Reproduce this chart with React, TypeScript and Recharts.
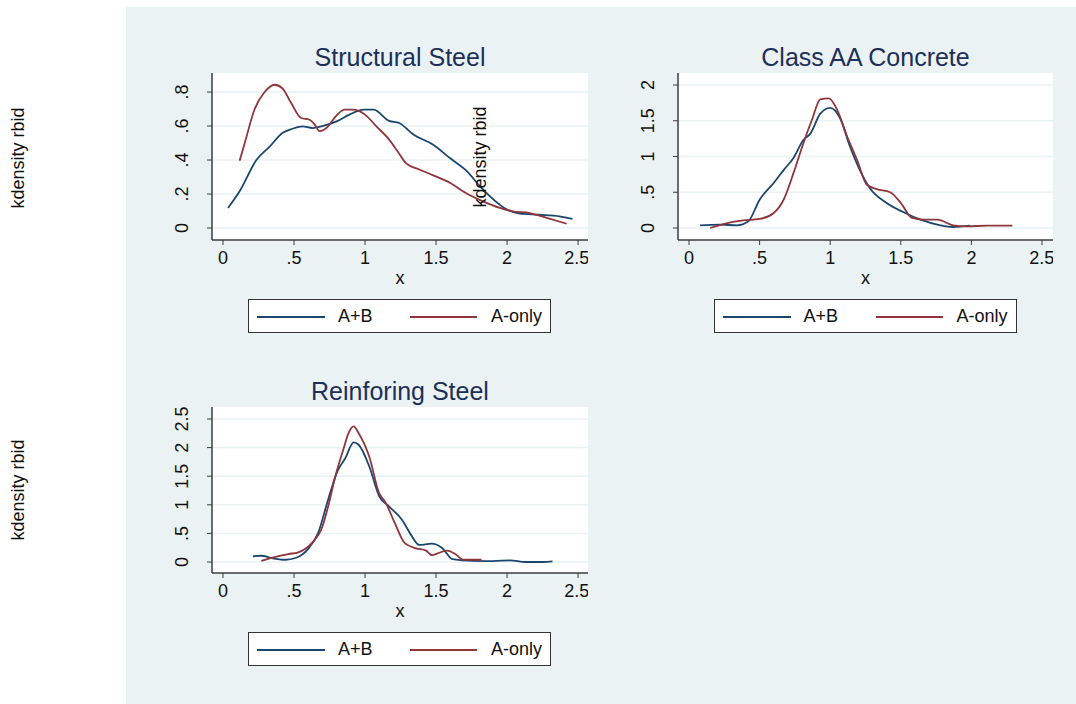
import { LineChart, Line, XAxis, YAxis, CartesianGrid } from 'recharts'

// Structural Steel
const steelABx = [0.035, 0.117, 0.235, 0.33, 0.42, 0.49, 0.56, 0.63, 0.7, 0.8, 0.89, 0.99, 1.06, 1.17, 1.24, 1.34, 1.48, 1.6, 1.71, 1.81, 1.88, 2.0, 2.09, 2.23, 2.37, 2.46]
const steelABy = [0.118, 0.216, 0.4, 0.48, 0.56, 0.584, 0.598, 0.588, 0.6, 0.627, 0.667, 0.696, 0.696, 0.63, 0.618, 0.55, 0.49, 0.41, 0.34, 0.245, 0.186, 0.108, 0.084, 0.078, 0.069, 0.053]
const steelAx = [0.117, 0.153, 0.223, 0.293, 0.364, 0.42, 0.48, 0.55, 0.61, 0.645, 0.68, 0.73, 0.8, 0.857, 0.915, 1.0, 1.08, 1.17, 1.23, 1.29, 1.385, 1.48, 1.6, 1.71, 1.83, 1.95, 2.04, 2.16, 2.28, 2.42]
const steelAy = [0.396, 0.5, 0.7, 0.8, 0.843, 0.82, 0.735, 0.647, 0.637, 0.61, 0.57, 0.59, 0.663, 0.696, 0.696, 0.667, 0.598, 0.52, 0.45, 0.38, 0.343, 0.31, 0.265, 0.206, 0.157, 0.118, 0.098, 0.088, 0.059, 0.025]

// Class AA Concrete
const concABx = [0.078, 0.22, 0.34, 0.42, 0.5, 0.6, 0.67, 0.74, 0.81, 0.86, 0.93, 1.0, 1.07, 1.14, 1.21, 1.28, 1.4, 1.52, 1.64, 1.78, 1.87, 1.99]
const concABy = [0.037, 0.047, 0.037, 0.093, 0.395, 0.63, 0.81, 0.98, 1.23, 1.32, 1.6, 1.68, 1.535, 1.14, 0.81, 0.56, 0.35, 0.22, 0.116, 0.037, 0.014, 0.033]
const concAx = [0.15, 0.31, 0.385, 0.5, 0.6, 0.67, 0.74, 0.81, 0.87, 0.93, 0.99, 1.05, 1.12, 1.19, 1.26, 1.33, 1.425, 1.5, 1.58, 1.66, 1.76, 1.87, 1.97, 2.11, 2.29]
const concAy = [0.0, 0.084, 0.107, 0.126, 0.21, 0.395, 0.767, 1.186, 1.51, 1.8, 1.814, 1.65, 1.28, 0.953, 0.605, 0.544, 0.5, 0.35, 0.14, 0.116, 0.116, 0.037, 0.023, 0.033, 0.033]

// Reinforing Steel
const rebarABx = [0.21, 0.27, 0.34, 0.44, 0.51, 0.6, 0.67, 0.74, 0.81, 0.86, 0.92, 0.955, 1.03, 1.1, 1.17, 1.26, 1.33, 1.38, 1.47, 1.545, 1.615, 1.76, 1.9, 2.02, 2.13, 2.25, 2.32]
const rebarABy = [0.1, 0.11, 0.07, 0.04, 0.07, 0.23, 0.51, 1.09, 1.61, 1.81, 2.09, 2.05, 1.67, 1.15, 0.97, 0.74, 0.45, 0.3, 0.32, 0.24, 0.05, 0.02, 0.017, 0.03, 0.0, 0.0, 0.012]
const rebarAx = [0.27, 0.37, 0.46, 0.53, 0.625, 0.7, 0.74, 0.79, 0.85, 0.885, 0.92, 0.955, 1.03, 1.1, 1.14, 1.21, 1.28, 1.36, 1.43, 1.47, 1.52, 1.58, 1.64, 1.69, 1.82]
const rebarAy = [0.02, 0.09, 0.14, 0.17, 0.33, 0.62, 0.97, 1.49, 1.99, 2.26, 2.37, 2.25, 1.84, 1.2, 1.06, 0.68, 0.33, 0.24, 0.2, 0.12, 0.16, 0.2, 0.13, 0.04, 0.04]

const xTicks = [0, 0.5, 1, 1.5, 2, 2.5]
const steelYTicks = [0, 0.2, 0.4, 0.6, 0.8]
const concYTicks = [0, 0.5, 1, 1.5, 2]
const rebarYTicks = [0, 0.5, 1, 1.5, 2, 2.5]

const seriesNames = ['A+B', 'A-only']
const BLUE = '#1a476f'
const RED = '#90353b'
const BG = '#eaf2f3'
const AXIS = '#3c3c3c'
const TITLE = '#1e2f5a'
const FONT = '"Liberation Sans", Arial, sans-serif'

const toPts = (xs: number[], ys: number[]) => xs.map((x, i) => ({ x, y: ys[i] }))
const fmt = (v: number) => (v === 0 ? '0' : String(v).replace(/^0\./, '.'))

function YTick(props: any) {
  const { x, y, payload } = props
  const cx = x - 17
  return (
    <text x={cx} y={y} transform={`rotate(-90, ${cx}, ${y})`} textAnchor="middle" fill="#111" fontSize={18} fontFamily={FONT}>
      {fmt(payload.value)}
    </text>
  )
}

interface PanelProps {
  left: number
  top: number
  w: number
  h: number
  xDomain: [number, number]
  yDomain: [number, number]
  yTicks: number[]
  title: string
  ab: { x: number; y: number }[]
  a: { x: number; y: number }[]
}

const YW = 62
const XH = 50

function Panel({ left, top, w, h, xDomain, yDomain, yTicks, title, ab, a }: PanelProps) {
  const cx = left + w / 2
  return (
    <>
      <div style={{ position: 'absolute', left: cx - 200, width: 400, top: top - 31, textAlign: 'center', fontSize: 25, color: TITLE, lineHeight: '30px' }}>
        {title}
      </div>
      <div style={{ position: 'absolute', left: left - YW, top }}>
        <LineChart width={w + YW} height={h + XH} margin={{ top: 0, right: 0, bottom: 0, left: 0 }}>
          <CartesianGrid vertical={false} fill="#ffffff" stroke={BG} strokeWidth={1.5} horizontalValues={yTicks} />
          <XAxis
            type="number"
            dataKey="x"
            domain={xDomain}
            ticks={xTicks}
            allowDataOverflow
            height={XH}
            tickSize={5}
            tickMargin={6}
            tickFormatter={fmt}
            tick={{ fontSize: 18, fill: '#111', fontFamily: FONT }}
            stroke={AXIS}
            axisLine={{ stroke: AXIS, strokeWidth: 1.5 }}
          />
          <YAxis
            type="number"
            domain={yDomain}
            ticks={yTicks}
            allowDataOverflow
            width={YW}
            tickSize={5}
            tick={<YTick />}
            stroke={AXIS}
            axisLine={{ stroke: AXIS, strokeWidth: 1.5 }}
          />
          <Line data={ab} dataKey="y" name={seriesNames[0]} type="monotone" stroke={BLUE} strokeWidth={1.8} dot={false} isAnimationActive={false} />
          <Line data={a} dataKey="y" name={seriesNames[1]} type="monotone" stroke={RED} strokeWidth={1.8} dot={false} isAnimationActive={false} />
        </LineChart>
      </div>
      <div style={{ position: 'absolute', left: cx - 20, width: 40, top: top + h + 28, textAlign: 'center', fontSize: 18, color: '#111', lineHeight: '20px' }}>
        x
      </div>
      <div
        style={{
          position: 'absolute',
          left: cx - 152,
          top: top + h + 59,
          width: 303,
          height: 34,
          border: '1px solid #333',
          background: '#fff',
          boxSizing: 'border-box',
          fontSize: 18,
          color: '#111',
        }}
      >
        <div style={{ position: 'absolute', left: 8, top: 16, width: 68, height: 2, background: BLUE }} />
        <div style={{ position: 'absolute', left: 89, top: 6, lineHeight: '20px' }}>{seriesNames[0]}</div>
        <div style={{ position: 'absolute', left: 161, top: 16, width: 67, height: 2, background: RED }} />
        <div style={{ position: 'absolute', left: 242, top: 6, lineHeight: '20px' }}>{seriesNames[1]}</div>
      </div>
    </>
  )
}

function VLabel({ x, y, text }: { x: number; y: number; text: string }) {
  return (
    <div
      style={{
        position: 'absolute',
        left: x - 70,
        top: y - 10,
        width: 140,
        height: 20,
        lineHeight: '20px',
        textAlign: 'center',
        fontSize: 18,
        color: '#111',
        transform: 'rotate(-90deg)',
      }}
    >
      {text}
    </div>
  )
}

export default function App() {
  return (
    <div style={{ position: 'absolute', left: 0, top: 0, width: 1076, height: 704, background: '#fff', fontFamily: FONT, overflow: 'hidden' }}>
      <div style={{ position: 'absolute', left: 126, top: 7, width: 950, height: 697, background: BG }} />
      <VLabel x={18} y={158} text="kdensity rbid" />
      <VLabel x={18} y={490} text="kdensity rbid" />
      <Panel
        left={212}
        top={73}
        w={376}
        h={167}
        xDomain={[-0.0775, 2.57]}
        yDomain={[-0.0706, 0.912]}
        yTicks={steelYTicks}
        title="Structural Steel"
        ab={toPts(steelABx, steelABy)}
        a={toPts(steelAx, steelAy)}
      />
      <Panel
        left={678}
        top={73}
        w={375}
        h={167}
        xDomain={[-0.078, 2.578]}
        yDomain={[-0.168, 2.168]}
        yTicks={concYTicks}
        title="Class AA Concrete"
        ab={toPts(concABx, concABy)}
        a={toPts(concAx, concAy)}
      />
      <VLabel x={480} y={157} text="kdensity rbid" />
      <Panel
        left={212}
        top={407}
        w={376}
        h={166}
        xDomain={[-0.0775, 2.57]}
        yDomain={[-0.192, 2.71]}
        yTicks={rebarYTicks}
        title="Reinforing Steel"
        ab={toPts(rebarABx, rebarABy)}
        a={toPts(rebarAx, rebarAy)}
      />
    </div>
  )
}
